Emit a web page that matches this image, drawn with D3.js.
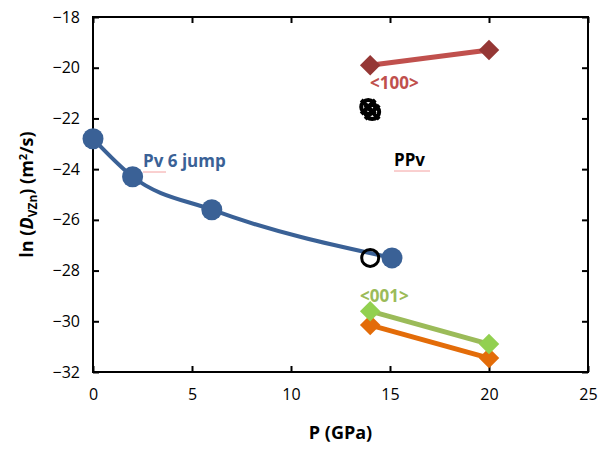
<!DOCTYPE html>
<html>
<head>
<meta charset="utf-8">
<script src="https://cdn.jsdelivr.net/npm/d3@7"></script>
<style>
  body { margin: 0; background: #fff; }
  text { font-family: "Open Sans", "Liberation Sans", sans-serif; }
</style>
</head>
<body>
<div id="chart"></div>
<script>
var svgwidth = 603;
var svgheight = 450;

// data
var xTicks = [0, 5, 10, 15, 20, 25];
var yTicks = [-18, -20, -22, -24, -26, -28, -30, -32];

var pvP = [0, 2, 6, 15.1];
var pvD = [-22.8, -24.3, -25.6, -27.5];

var d100P = [14, 20];
var d100D = [-19.9, -19.3];

var d001P = [14, 20];
var d001D = [-29.6, -30.9];

var orangeP = [14, 20];
var orangeD = [-30.15, -31.45];

var openP = [14];
var openD = [-27.5];

var crossP = [13.9, 14.1];
var crossD = [-21.55, -21.75];

var svg = d3.select("#chart")
            .append("svg")
            .attr("width", svgwidth)
            .attr("height", svgheight);

var plotLeft = 93, plotRight = 588, plotTop = 17, plotBottom = 372;
var fontFam = "'Open Sans', 'Liberation Sans', sans-serif";

var xscale = d3.scaleLinear().domain([0, 25]).range([plotLeft, plotRight]);
var yscale = d3.scaleLinear().domain([-32, -18]).range([plotBottom, plotTop]);

function pts(xs, ys) {
    return xs.map(function(x, i) { return {x: x, y: ys[i]}; });
}

// frame
svg.append("rect")
    .attr("x", plotLeft).attr("y", plotTop)
    .attr("width", plotRight - plotLeft).attr("height", plotBottom - plotTop)
    .attr("fill", "none").attr("stroke", "#000").attr("stroke-width", 2);

// axes, ticks pointing inward
var xaxis = d3.axisBottom(xscale).tickValues(xTicks).tickSizeInner(-6).tickSizeOuter(0).tickPadding(14);
var gx = svg.append("g").attr("transform", "translate(0," + plotBottom + ")").call(xaxis);
var xtop = d3.axisTop(xscale).tickValues(xTicks).tickSizeInner(-6).tickSizeOuter(0).tickFormat("");
var gxt = svg.append("g").attr("transform", "translate(0," + plotTop + ")").call(xtop);

var yaxis = d3.axisLeft(yscale).tickValues(yTicks).tickSizeInner(-6).tickSizeOuter(0).tickPadding(13);
var gy = svg.append("g").attr("transform", "translate(" + plotLeft + ",0)").call(yaxis);
var yright = d3.axisRight(yscale).tickValues(yTicks).tickSizeInner(-6).tickSizeOuter(0).tickFormat("");
var gyr = svg.append("g").attr("transform", "translate(" + plotRight + ",0)").call(yright);

[gx, gxt, gy, gyr].forEach(function(g) {
    g.attr("font-family", fontFam).attr("font-size", 16);
    g.select(".domain").remove();
    g.selectAll("line").attr("stroke", "#000").attr("stroke-width", 2);
    g.selectAll("text").attr("fill", "#000");
});
gx.selectAll("text").attr("dy", "0.9em");

// axis titles
svg.append("text")
    .attr("x", (plotLeft + plotRight) / 2).attr("y", 439)
    .attr("text-anchor", "middle")
    .style("font-size", "18px").style("font-weight", "bold")
    .text("P (GPa)");

var ytitle = svg.append("text")
    .attr("transform", "translate(33," + ((plotTop + plotBottom) / 2) + ") rotate(-90)")
    .attr("text-anchor", "middle")
    .style("font-size", "18px").style("font-weight", "bold");
ytitle.append("tspan").text("ln (");
ytitle.append("tspan").style("font-style", "italic").text("D");
ytitle.append("tspan").attr("dy", 4).style("font-size", "12px").text("VZn");
ytitle.append("tspan").attr("dy", -4).text(") (m");
ytitle.append("tspan").attr("dy", -6).style("font-size", "11px").text("2");
ytitle.append("tspan").attr("dy", 6).text("/s)");

var line = d3.line().x(function(d) { return xscale(d.x); }).y(function(d) { return yscale(d.y); });

// Pv curve
svg.append("path")
    .datum(pts(pvP, pvD))
    .attr("d", line.curve(d3.curveMonotoneX))
    .attr("fill", "none").attr("stroke", "#3A6196").attr("stroke-width", 4);
line.curve(d3.curveLinear);

// diamond series
function diamondSeries(xs, ys, lineColor, fillColor) {
    svg.append("path")
        .datum(pts(xs, ys))
        .attr("d", line)
        .attr("fill", "none").attr("stroke", lineColor).attr("stroke-width", 5);
    svg.append("g").selectAll("path")
        .data(pts(xs, ys))
        .join("path")
        .attr("d", d3.symbol().type(d3.symbolSquare).size(210))
        .attr("transform", function(d) { return "translate(" + xscale(d.x) + "," + yscale(d.y) + ") rotate(45)"; })
        .attr("fill", fillColor);
}
diamondSeries(d100P, d100D, "#C0504D", "#953735");
diamondSeries(orangeP, orangeD, "#E36C09", "#E36C09");
diamondSeries(d001P, d001D, "#9BBB59", "#92D050");

// open circle
svg.append("g").selectAll("circle")
    .data(pts(openP, openD))
    .join("circle")
    .attr("cx", function(d) { return xscale(d.x); })
    .attr("cy", function(d) { return yscale(d.y); })
    .attr("r", 8.5)
    .attr("fill", "none").attr("stroke", "#000").attr("stroke-width", 3);

// Pv points
svg.append("g").selectAll("circle")
    .data(pts(pvP, pvD))
    .join("circle")
    .attr("cx", function(d) { return xscale(d.x); })
    .attr("cy", function(d) { return yscale(d.y); })
    .attr("r", 10.5)
    .attr("fill", "#3A6196");

// overlapping crossed-circle markers
var crossG = svg.append("g");
crossG.selectAll("circle")
    .data(pts(crossP, crossD))
    .join("circle")
    .attr("cx", function(d) { return xscale(d.x); })
    .attr("cy", function(d) { return yscale(d.y); })
    .attr("r", 7)
    .attr("fill", "none").attr("stroke", "#000").attr("stroke-width", 4);
crossG.selectAll("path")
    .data(pts(crossP, crossD))
    .join("path")
    .attr("d", d3.symbol().type(d3.symbolX).size(130))
    .attr("transform", function(d) { return "translate(" + xscale(d.x) + "," + yscale(d.y) + ")"; })
    .attr("fill", "none").attr("stroke", "#000").attr("stroke-width", 4);

// labels
svg.append("text").attr("x", 143).attr("y", 167)
    .style("font-size", "17px").style("font-weight", "bold").attr("fill", "#3A6196")
    .text("Pv 6 jump");
svg.append("text").attr("x", 394).attr("y", 166)
    .style("font-size", "17px").style("font-weight", "bold").attr("fill", "#000")
    .text("PPv");
svg.append("text").attr("x", 370).attr("y", 89)
    .style("font-size", "17px").style("font-weight", "bold").attr("fill", "#C0504D")
    .text("<100>");
svg.append("text").attr("x", 360).attr("y", 302)
    .style("font-size", "17px").style("font-weight", "bold").attr("fill", "#9BBB59")
    .text("<001>");

// spell-check squiggles under Pv / PPv
svg.append("line").attr("x1", 143).attr("x2", 166).attr("y1", 172).attr("y2", 172)
    .attr("stroke", "#f4a0a0").attr("stroke-width", 1);
svg.append("line").attr("x1", 394).attr("x2", 430).attr("y1", 171).attr("y2", 171)
    .attr("stroke", "#f4a0a0").attr("stroke-width", 1);
</script>
</body>
</html>
